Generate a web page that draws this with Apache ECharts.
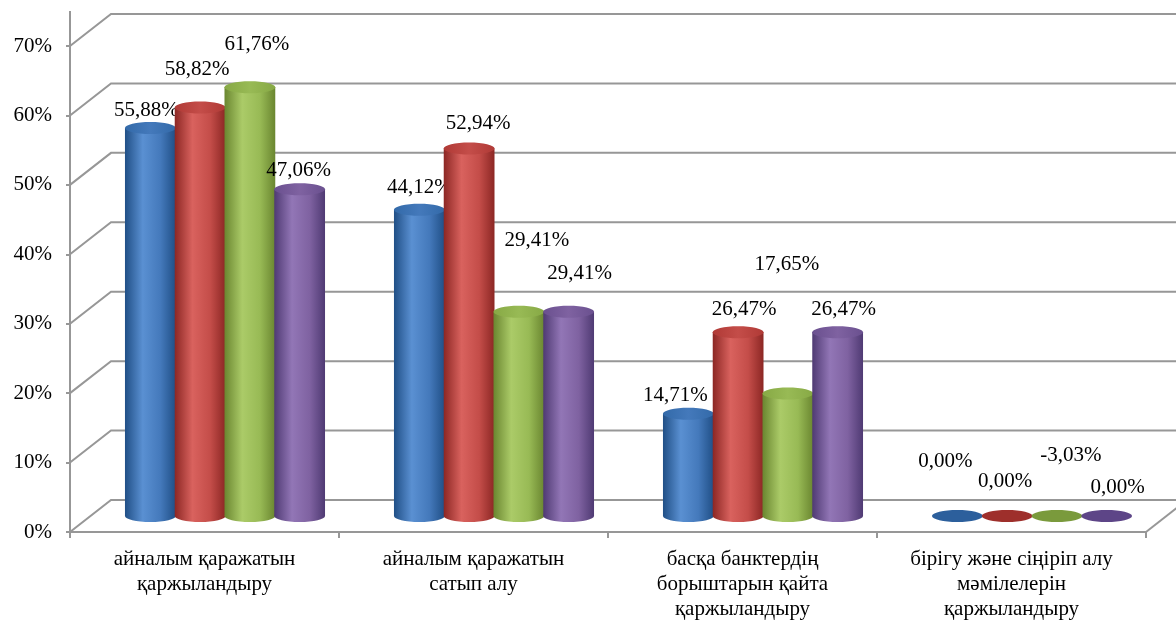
<!DOCTYPE html>
<html>
<head>
<meta charset="utf-8">
<style>
  html, body { margin: 0; padding: 0; background: #fff; }
  #chart { width: 1176px; height: 622px; }
</style>
<script src="https://cdn.jsdelivr.net/npm/echarts@6/dist/echarts.min.js"></script>
</head>
<body>
<div id="chart"></div>
<script>
// categories on the x axis
var categories = [
  'айналым қаражатын\nқаржыландыру',
  'айналым қаражатын\nсатып алу',
  'басқа банктердің\nборыштарын қайта\nқаржыландыру',
  'бірігу және сіңіріп алу\nмәмілелерін\nқаржыландыру'
];
// four series, one per cylinder colour
var blueValues = [55.88, 44.12, 14.71, 0.00];
var redValues = [58.82, 52.94, 26.47, 0.00];
var greenValues = [61.76, 29.41, 17.65, -3.03];
var purpleValues = [47.06, 29.41, 26.47, 0.00];
var yTicks = [0, 10, 20, 30, 40, 50, 60, 70];

// label nudges (px) from the top of each cylinder, as Excel placed them
var blueLabelShift = [[-4, -18], [0, -22], [-13, -18], [-12, -55]];
var redLabelShift = [[-3, -38], [9, -25], [6, -23], [-2, -35]];
var greenLabelShift = [[7, -43], [18, -71], [-1, -129], [14, -61]];
var purpleLabelShift = [[-1, -19], [11, -38], [6, -23], [11, -29]];

var FONT = '"Liberation Serif", "Times New Roman", serif';
var DEPTH_X = 41, DEPTH_Y = 32;
var LINE = '#979797';

var palette = [
  { dark: '#204f86', light: '#5a90d2', mid: '#4479bb', top: '#336aa9', flat: '#2c5f9c' },
  { dark: '#8c2724', light: '#d9625e', mid: '#c44d49', top: '#b03a36', flat: '#9e2f2b' },
  { dark: '#6a8630', light: '#abcb68', mid: '#98ba55', top: '#87a945', flat: '#7a9a3c' },
  { dark: '#4f3a73', light: '#9276b6', mid: '#7f62a1', top: '#6a508f', flat: '#5d4587' }
];

function fmt(v) {
  return v.toFixed(2).replace('.', ',') + '%';
}

function bodyGradient(c) {
  return new echarts.graphic.LinearGradient(0, 0, 1, 0, [
    { offset: 0, color: c.dark },
    { offset: 0.35, color: c.light },
    { offset: 0.7, color: c.mid },
    { offset: 1, color: c.dark }
  ]);
}

function cylinderSeries(name, values, shifts, si) {
  var c = palette[si];
  return {
    name: name,
    type: 'custom',
    coordinateSystem: 'cartesian2d',
    clip: false,
    z: 10 + si,
    data: values.map(function (v, i) { return [i, v]; }),
    renderItem: function (params, api) {
      var cat = api.value(0);
      var v = api.value(1);
      var band = api.size([1, 0])[0];
      var w = band * 0.185;
      var base = api.coord([cat, 0]);
      var top = api.coord([cat, Math.max(v, 0)]);
      var cx = base[0] + DEPTH_X / 2 + (si - 1.5) * w;
      var by = base[1] - DEPTH_Y / 2;
      var ty = top[1] - DEPTH_Y / 2;
      var rx = w / 2 + 0.5, ry = 6;
      var sh = shifts[params.dataIndex];
      var children = [];
      if (by - ty > 1) {
        children.push({
          type: 'ellipse',
          shape: { cx: cx, cy: by, rx: rx, ry: ry },
          style: { fill: bodyGradient(c) }
        });
        children.push({
          type: 'rect',
          shape: { x: cx - rx, y: ty, width: rx * 2, height: by - ty },
          style: { fill: bodyGradient(c) }
        });
        children.push({
          type: 'ellipse',
          shape: { cx: cx, cy: ty, rx: rx, ry: ry },
          style: {
            fill: new echarts.graphic.LinearGradient(0, 0, 1, 0, [
              { offset: 0, color: c.top },
              { offset: 0.5, color: c.mid },
              { offset: 1, color: c.top }
            ])
          }
        });
      } else {
        children.push({
          type: 'ellipse',
          shape: { cx: cx, cy: by, rx: rx, ry: ry },
          style: { fill: c.flat }
        });
      }
      children.push({
        type: 'text',
        z2: 50,
        style: {
          x: cx + sh[0],
          y: ty + sh[1],
          text: fmt(v),
          fill: '#000',
          font: '21px ' + FONT,
          align: 'center',
          verticalAlign: 'middle'
        }
      });
      return { type: 'group', children: children };
    }
  };
}

var chart = echarts.init(document.getElementById('chart'));

chart.setOption({
  backgroundColor: '#fff',
  animation: false,
  grid: { left: 70, right: 30, top: 46, bottom: 85 },
  xAxis: {
    type: 'category',
    data: categories,
    axisLine: { lineStyle: { color: LINE, width: 2 } },
    axisTick: { show: true, length: 6, lineStyle: { color: LINE, width: 2 } },
    axisLabel: {
      color: '#000',
      fontFamily: FONT,
      fontSize: 21,
      lineHeight: 25,
      margin: 15,
      interval: 0
    },
    splitLine: { show: false }
  },
  yAxis: {
    type: 'value',
    min: 0,
    max: 70,
    interval: 10,
    axisLine: { show: false },
    axisTick: { show: true, length: 4, lineStyle: { color: LINE, width: 2 } },
    axisLabel: {
      color: '#000',
      fontFamily: FONT,
      fontSize: 21,
      margin: 18,
      formatter: '{value}%'
    },
    splitLine: { show: false }
  },
  series: [
    {
      name: 'wall',
      type: 'custom',
      coordinateSystem: 'cartesian2d',
      clip: false,
      z: 1,
      silent: true,
      data: yTicks.map(function (v) { return [0, v]; }),
      renderItem: function (params, api) {
        var v = api.value(1);
        var band = api.size([1, 0])[0];
        var p = api.coord([0, v]);
        var left = p[0] - band / 2;
        var W = api.getWidth();
        var lineStyle = { stroke: LINE, lineWidth: 2, fill: null };
        var children = [{
          type: 'polyline',
          shape: { points: [[left, p[1]], [left + DEPTH_X, p[1] - DEPTH_Y], [W + 5, p[1] - DEPTH_Y]] },
          style: lineStyle
        }];
        if (v === 0) {
          var right = left + band * categories.length;
          var topP = api.coord([0, yTicks[yTicks.length - 1]]);
          children.push({
            type: 'line',
            shape: { x1: left, y1: p[1], x2: left, y2: topP[1] - 35 },
            style: lineStyle
          });
          children.push({
            type: 'line',
            shape: { x1: right, y1: p[1], x2: right + DEPTH_X, y2: p[1] - DEPTH_Y },
            style: lineStyle
          });
        }
        return { type: 'group', children: children };
      }
    },
    cylinderSeries('1', blueValues, blueLabelShift, 0),
    cylinderSeries('2', redValues, redLabelShift, 1),
    cylinderSeries('3', greenValues, greenLabelShift, 2),
    cylinderSeries('4', purpleValues, purpleLabelShift, 3)
  ]
});
</script>
</body>
</html>
